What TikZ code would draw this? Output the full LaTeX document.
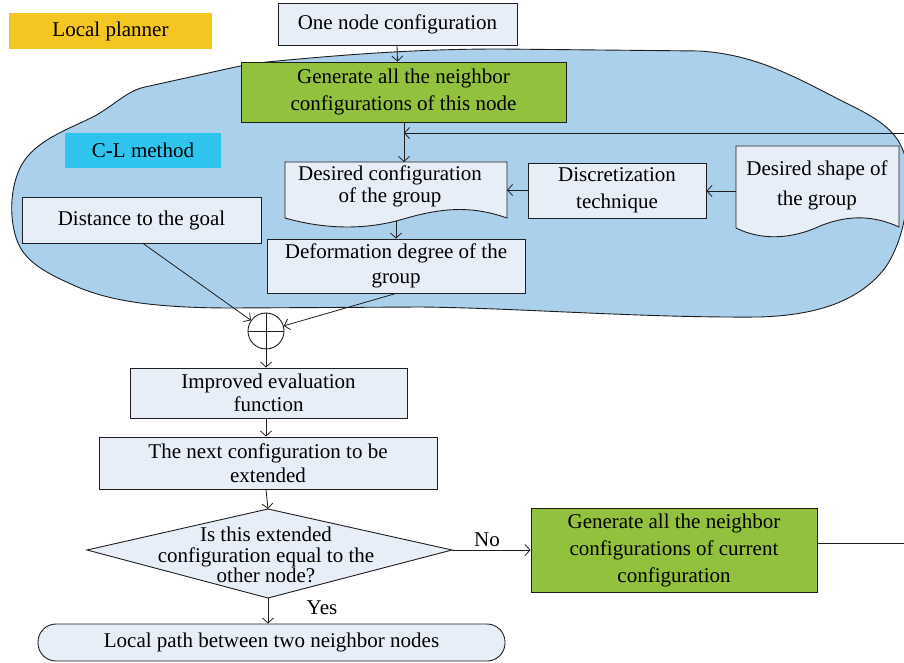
\documentclass[tikz,border=0pt]{standalone}
\usepackage{fontspec}
\setmainfont{Liberation Serif}
\usetikzlibrary{arrows.meta,shapes.geometric,shapes.misc}
\definecolor{boxfill}{RGB}{232,238,247}
\definecolor{blobfill}{RGB}{171,208,236}
\definecolor{greenfill}{RGB}{146,193,62}
\definecolor{yellowfill}{RGB}{244,198,34}
\definecolor{cyanfill}{RGB}{46,196,238}
\definecolor{edge}{RGB}{30,30,30}
\tikzset{
  box/.style={draw=edge, fill=boxfill, line width=0.9pt, align=center, inner sep=0pt},
  greenbox/.style={box, fill=greenfill},
  tag/.style={fill=#1, inner sep=0pt, align=center},
  txt/.style={align=center, inner sep=0pt},
  ls/.style={font=\fontsize{21}{#1}\selectfont},
  arr/.style={-{Straight Barb[length=5pt,width=11pt]}, line width=0.8pt, draw=edge},
  doc/.style={draw=edge, fill=boxfill, line width=0.9pt},
  every node/.append style={font=\fontsize{21}{24}\selectfont}
}
\begin{document}
\begin{tikzpicture}[x=1pt,y=-1pt]
\useasboundingbox (0,0) rectangle (904,663);
% blob (C-L method region)
\path[fill=blobfill, draw=edge, line width=0.9pt]
  (240,66) -- (267,62) .. controls (350,54) and (420,49) .. (500,49)
  -- (700,51) .. controls (760,55) and (800,80) .. (850,105)
  .. controls (885,122) and (900,135) .. (906,160)
  .. controls (912,190) and (905,240) .. (885,268)
  .. controls (860,300) and (820,315) .. (760,317)
  .. controls (640,318) and (520,308) .. (420,307)
  -- (233,308)
  .. controls (150,308) and (110,300) .. (80,288)
  .. controls (50,275) and (30,265) .. (20,247)
  .. controls (8,225) and (8,180) .. (27,157)
  .. controls (45,135) and (80,125) .. (100,113)
  .. controls (120,100) and (130,90) .. (145,87) -- cycle;

\node[tag=yellowfill, minimum width=203, minimum height=36] (lp) at (110.5,31) {Local planner};
\node[box, minimum width=239, minimum height=42] (one) at (397.5,24) {One node configuration};
\node[greenbox, ls=27, minimum width=325, minimum height=60] (gen1) at (403.5,92) {Generate all the neighbor\\configurations of this node};
\node[tag=cyanfill, minimum width=156, minimum height=35] (cl) at (143,150.5) {C-L method};

% document shapes
\path[doc] (285,162) -- (507,162) -- (507,218)
  .. controls (470,205) and (440,208) .. (400,220)
  .. controls (360,231) and (320,228) .. (285,218) -- cycle;
\node[txt, ls=22] (desc) at (390,186) {Desired configuration\\of the group};
\coordinate (descS) at (396,221);
\coordinate (descE) at (507,190);
\coordinate (descN) at (404,162);

\path[doc] (736,146) -- (899,146) -- (899,227)
  .. controls (875,216) and (850,214) .. (820,226)
  .. controls (790,240) and (760,240) .. (736,228) -- cycle;
\node[txt, ls=30] (dshape) at (817,185) {Desired shape of\\the group};
\coordinate (dshapeW) at (736,191);

\node[box, ls=27, minimum width=178, minimum height=55] (disc) at (617,190.5) {Discretization\\technique};
\node[box, minimum width=239, minimum height=46] (dist) at (141.5,220) {Distance to the goal};
\node[box, ls=25, minimum width=258, minimum height=54] (def) at (396,266) {Deformation degree of the\\group};

\node[circle, draw=edge, line width=0.9pt, minimum size=36, inner sep=0pt] (sum) at (266,331) {};
\draw[line width=0.8pt, draw=edge] (sum.north) -- (sum.south) (sum.west) -- (sum.east);

\node[box, ls=23, minimum width=277, minimum height=50] (imp) at (268.5,393) {Improved evaluation\\function};
\node[box, ls=24, minimum width=338, minimum height=52] (next) at (268,463) {The next configuration to be\\extended};

% decision diamond
\coordinate (diaN) at (268,509);
\coordinate (diaE) at (452,550);
\coordinate (diaS) at (268,598);
\coordinate (diaW) at (87,550);
\path[draw=edge, fill=boxfill, line width=0.9pt] (diaN) -- (diaE) -- (diaS) -- (diaW) -- cycle;
\node[txt, ls=20.5] (dia) at (266,555) {Is this extended\\configuration equal to the\\other node?};

\node[greenbox, ls=27, minimum width=286, minimum height=84] (gen2) at (674,550) {Generate all the neighbor\\configurations of current\\configuration};
\node[box, rounded corners=18, minimum width=467, minimum height=37] (local) at (271.5,642.5) {Local path between two neighbor nodes};

% connectors
\coordinate (oneS) at (397,45);
\draw[arr] (oneS) -- (one.south |- gen1.north);
\draw[arr] (gen1.south -| descN) -- (descN);
\coordinate (loopA) at (920,543);
\coordinate (loopB) at (920,133);
\coordinate (loopC) at (404,133);
\draw[arr] (gen2.east |- loopA) -- (loopA) -- (loopB) -- (loopC);
\draw[arr] (dshapeW) -- (disc.east |- dshapeW);
\draw[arr] (disc.west |- descE) -- (descE);
\draw[arr] (descS) -- (descS |- def.north);
\draw[arr] (dist.south) ++(1.5,0) -- (sum);
\draw[arr] (def.south) -- (sum);
\draw[arr] (sum.south) -- (sum.south |- imp.north);
\draw[arr] (sum.south |- imp.south) -- (sum.south |- next.north);
\draw[arr] (sum.south |- next.south) -- (diaN);
\draw[arr] (diaS) -- (diaS |- local.north);
\node[txt] (yes) at (322,608) {Yes};
\draw[arr] (diaE) -- (gen2.west |- diaE);
\node[txt] (no) at (487,540) {No};
\end{tikzpicture}
\end{document}
